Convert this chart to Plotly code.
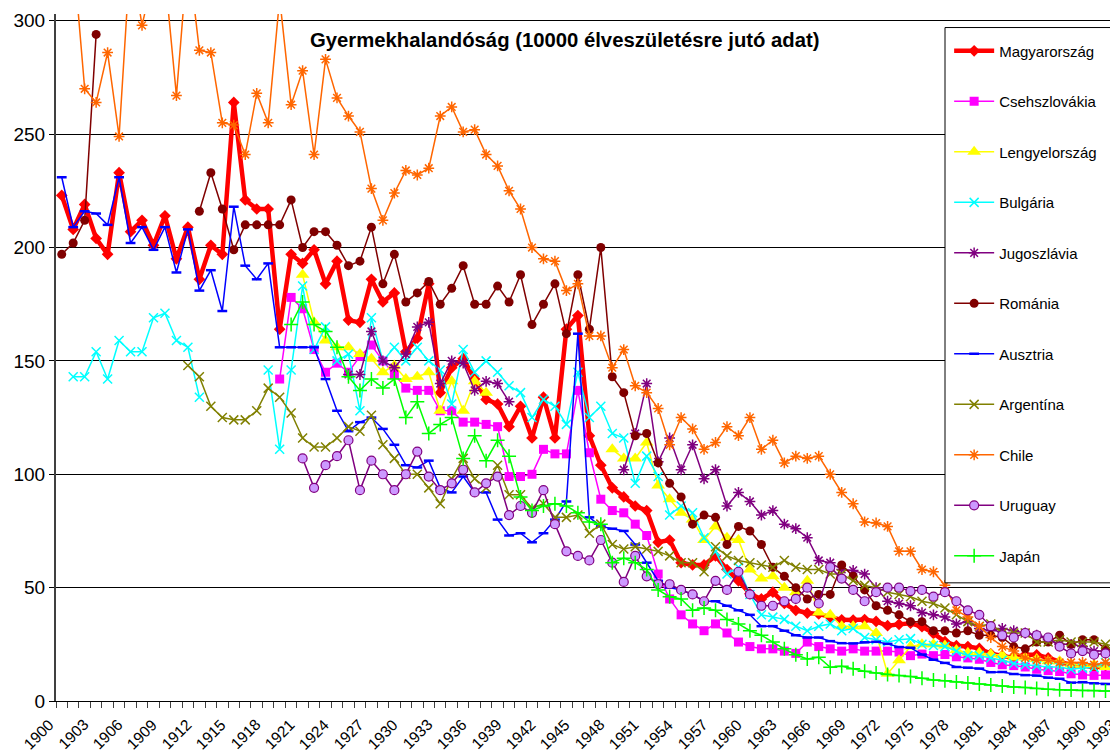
import plotly.graph_objects as go

years = list(range(1900, 1994))

def pad(start, vals):
    out = [None] * (start - 1900) + list(vals)
    return out + [None] * (len(years) - len(out))

# ---- data ----
hu_start = 1900
hu = [223, 208, 219, 204, 197, 233, 207, 212, 201, 214, 195, 209, 186, 201, 197, 264, 221, 217, 217, 164,
      197, 193, 199, 184, 194, 168, 167, 186, 176, 180, 154, 160, 184, 136, 147, 151, 142, 133, 131, 121,
      130, 116, 134, 116, 164, 170, 117, 104, 94, 90, 86, 84, 70, 71, 61, 60, 60, 64, 58, 53,
      47.3, 45, 48, 43, 40, 38.8, 38.4, 37, 35.8, 35.7, 35.9, 35.1, 33.2, 33.8, 34.3, 32.8, 29.8, 26.2, 24.4, 24,
      23.2, 20.8, 20, 19, 20.4, 20.4, 19, 17.3, 15.8, 15.7, 14.8, 15.6, 14.1, 12.5]

cs_start = 1919
cs = [142, 178, 173, 155, 145, 149, 145, 152, 157, 150, 144, 138, 137, 137, 128, 128, 123, 123, 122, 121,
      99, 99, 100, 111, 109, 109, 137, 109.5, 89, 84, 83, 78, 73, 56, 45, 38, 34, 31, 34, 30,
      26, 24, 23, 23, 22, 21, 26, 24, 23, 22, 23, 22, 22, 22, 21.6, 20, 20.7, 20, 20.5, 19.5,
      19, 18.4, 17, 16, 15.6, 15, 14, 13.4, 13, 12, 11.5, 11.3, 11.5, 10, 9]

pl_start = 1921
pl = [188, 167, 159, 156, 156, 153, 151, 145, 148, 142, 143, 145, 128, 141, 128, 141, 136,
      None, None, None, None, None, None, None, None, None, None,
      111, 107, 107, 114, 95, 89, 83, 80, 71, 77, 72, 71, 58, 54, 55, 50, 48, 53,
      39, 38, 33, 33, 33, 30, 12, 18, 24, 25, 25, 24.5, 22.5, 21.3, 21.3, 20.6, 20.2, 19.2,
      19.2, 18.5, 17.5, 17.5, 16.2, 16, 16, 15, 14.4, 13.8]

bg_start = 1901
bg = [143, 143, 154, 142, 159, 154, 154, 169, 171, 159, 156, 134,
      None, None, None, None, None,
      146, 111, 146, 183, 155, 165, 150, 153, 128, 169, 150, 156, 150, 156, 150, 146, 131, 155, 145,
      150, 145, 139, 136, 125, 133, 130, 122, 145, 125, 130, 118, 116, 96, 108, 99, 82, 86, 83,
      72, 66, 56, 59, 47, 38, 37, 36, 33, 31, 33, 34, 31, 32, 28, 27, 26, 27, 27.5, 25, 24.5,
      24, 22, 20, 20, 19, 18, 16.5, 16, 15.5, 15, 15, 14, 14.5, 14.8, 17, 16, 16]

yu_start = 1925
yu = [144, 144, 163, 150, 147, 153, 165, 167, 140, 150, 149, 137, 141, 140, 132,
      None, None, None, None, None, None, None, None, None,
      102, 118, 140, 105.5, 116, 102, 113, 98, 102, 86, 92, 88, 82, 84, 78, 76, 72, 62, 61,
      58, 57.6, 56, 50, 44, 43, 42, 39, 38, 37, 34, 35, 32, 31, 32, 31, 30, 29, 27, 25, 25,
      24, 22, 22, 21, 21]

ro_start = 1900
ro = [197, 202, 212, 294, None, None, None, None, None, None, None, None,
      216, 233, 217, 199, 210, 210, 210, 210, 221, 200, 207, 207, 201, 192, 194, 209, 184, 197,
      176, 180, 185, 175, 182, 192, 175, 175, 183, 176, 188, 166, 175, 184, 162, 188, 164, 200,
      143, 136, 117, 118, 105, 96, 90, 78, 82, 81, 69, 77, 75, 69, 59, 55, 50, 45, 47, 47, 60,
      55, 49, 42, 40, 38, 35, 35, 31, 31, 30, 31, 29, 29, 28, 24, 23, 26, 26, 29, 25, 27, 27,
      23, 23, 23]

at_start = 1900
at = [231, 209, 216, 215, 210, 231, 202, 209, 199, 209, 189, 208, 181, 190, 172, 218, 192, 186, 193,
      156, 156, 156, 156, 142, 128, 119, 123, 125, 120, 113, 104, 103, 106, 94, 92, 99, 92, 92,
      80, 73, 74, 70, 74, 80, 88, 162, 81, 77, 76, 75, 69, 61, 53, 50, 49, 47, 44, 44, 42, 40,
      38, 33, 33, 31, 29, 28, 28, 26.4, 25.5, 25.4, 25.9, 26.1, 25.2, 23.8, 23.5, 20.5, 18.2,
      16.8, 15, 14.7, 14.3, 12.7, 12.8, 11.9, 11.4, 11.2, 10.3, 9.8, 8.1, 8.3, 7.8, 7.5, 7.5, 6.5]

ar_start = 1911
ar = [148, 143, 130, 125, 124, 124, 128, 138, 134, 127, 116, 112, 112, 116, 121, 119, 126, 113,
      107, 100, 100, 94, 87, 98, 107, 98, 94, 104, 91, 91, 85, 87, 81, 81, 82, 74, 78, 69, 67,
      68, 67, 66, 64, 61, 61, 57, 68, 64, 62, 61, 60, 59, 62, 59, 58, 58, 56, 56, 53, 51, 50,
      48, 47, 46, 44, 43, 41, 38, 35, 33, 34, 30, 30, 30, 26, 26, 27, 26, 26, 26, 25, 24, 23]

cl_start = 1900
cl = [340, 330, 270, 264, 286, 249, 330, 298, 320, 320, 267, 330, 287, 286, 255, 254, 241, 268,
      255, 310, 263, 278, 241, 283, 266, 258, 251, 226, 212, 224, 234, 232, 235, 258, 262, 251,
      252, 241, 236, 225, 217, 200, 195, 194, 181, 184, 161, 161, 147, 155, 139, 136, 129, 113,
      125, 120, 111, 114, 121, 117, 125, 111, 115, 105, 108, 107, 108, 100, 92, 87, 79, 78.5,
      77, 66, 66, 58, 57, 51, 40, 37, 33, 28, 24, 22, 19, 18, 18, 17, 17, 17, 16, 17, 15, 14]

uy_start = 1921
uy = [107, 94, 104, 108, 115, 93, 106, 100, 93, 100, 110, 99, 93, 96, 102, 92, 96, 99, 82, 86,
      83, 93, 78, 66, 64, 62, 71, 61, 52.5, 64, 55, 51.5, 51.5, 49, 47, 44, 53, 49, 57, 47, 42,
      42, 44, 45, 50, 43, 59, 54, 49, 44, 48, 50, 50, 48.5, 49, 46, 48, 44, 40, 38, 33, 29, 28,
      30, 29, 28, 24, 21, 22, 20.4, 21, 19, 19]

jp_start = 1920
jp = [166, 176, 166, 163, 156, 143, 137, 142, 138, 142, 125, 132, 118, 122, 125, 107, 117, 106,
      115, 108, 90, 84, 86, 87, 86, 83, 79, 78, 61, 63, 61, 58, 49, 46, 45, 40, 41, 40, 36, 34,
      31, 29, 26, 23, 20.4, 18.5, 19.3, 14.9, 15.3, 14.2, 13.1, 12.4, 11.7, 11.3, 10.8, 10, 9.3,
      8.9, 8.4, 7.9, 7.5, 7.1, 6.6, 6.2, 6, 5.5, 5.2, 5, 4.8, 4.6, 4.6, 4.4, 4.5, 4.3]

names = ["Magyarország", "Csehszlovákia", "Lengyelország", "Bulgária", "Jugoszlávia", "Románia",
         "Ausztria", "Argentína", "Chile", "Uruguay", "Japán"]
data = [pad(hu_start, hu), pad(cs_start, cs), pad(pl_start, pl), pad(bg_start, bg), pad(yu_start, yu),
        pad(ro_start, ro), pad(at_start, at), pad(ar_start, ar), pad(cl_start, cl), pad(uy_start, uy),
        pad(jp_start, jp)]

tick_years = list(range(1900, 1994, 3))
tick_text = [str(y) for y in tick_years]
y_ticks = [0, 50, 100, 150, 200, 250, 300]
x_range = [1899.5, 1992.09]

# ---- styles ----
styles = [
    dict(color="#FF0000", width=4.5, symbol="diamond", msize=9, mcolor="#FF0000", mline="#FF0000", mlw=0),
    dict(color="#FF00FF", width=1.5, symbol="square", msize=9, mcolor="#FF00FF", mline="#FF00FF", mlw=0),
    dict(color="#FFFF00", width=1.5, symbol="triangle-up", msize=12, mcolor="#FFFF00", mline="#FFFF00", mlw=0),
    dict(color="#00FFFF", width=1.5, symbol="x-thin-open", msize=9, mcolor="#00FFFF", mline="#00FFFF", mlw=1.5),
    dict(color="#800080", width=1.5, symbol="asterisk-open", msize=9, mcolor="#800080", mline="#800080", mlw=1.5),
    dict(color="#800000", width=1.5, symbol="circle", msize=9, mcolor="#800000", mline="#800000", mlw=0),
    dict(color="#0000FF", width=1.5, symbol="line-ew-open", msize=7, mcolor="#0000FF", mline="#0000FF", mlw=2.5),
    dict(color="#808000", width=1.5, symbol="x-thin-open", msize=9, mcolor="#808000", mline="#808000", mlw=1.5),
    dict(color="#FF6600", width=1.5, symbol="asterisk-open", msize=9, mcolor="#FF6600", mline="#FF6600", mlw=1.5),
    dict(color="#800080", width=1.5, symbol="circle", msize=9, mcolor="#CC99FF", mline="#800080", mlw=1.2),
    dict(color="#00FF00", width=1.5, symbol="cross-thin-open", msize=10, mcolor="#00FF00", mline="#00FF00", mlw=1.5),
]

fig = go.Figure()
for i, (name, vals, st) in enumerate(zip(names, data, styles)):
    fig.add_trace(go.Scatter(
        x=years, y=vals, name=name, mode="lines+markers", legendgroup=str(i),
        line=dict(color=st["color"], width=st["width"]),
        marker=dict(symbol=st["symbol"], size=st["msize"], color=st["mcolor"],
                    line=dict(color=st["mline"], width=st["mlw"])),
        connectgaps=False,
    ))

# legend frame (extends past the right edge of the picture)
fig.add_shape(type="rect", xref="paper", yref="paper", x0=0.8371, x1=1.02, y0=0.172, y1=0.9803,
              fillcolor="white", line=dict(color="black", width=1), layer="above")

fig.add_annotation(text="<b>Gyermekhalandóság (10000 élveszületésre jutó adat)</b>",
                   xref="paper", yref="paper", x=0.479, y=0.962, yanchor="middle", showarrow=False,
                   font=dict(family="Arial, Liberation Sans", size=20.3, color="black"))

# rotated category labels, Excel style (text ends just left of its category)
plot_w = 1062
for yr, txt in zip(tick_years, tick_text):
    xf = (yr - x_range[0]) / (x_range[1] - x_range[0])
    shift = -23.5
    # keep the last label inside the picture
    shift = min(shift, (1.0 - xf) * plot_w - 18)
    fig.add_annotation(text=txt, xref="paper", yref="paper", x=xf, y=0,
                       xanchor="center", yanchor="middle", xshift=shift, yshift=-33,
                       textangle=-45, showarrow=False, borderpad=0,
                       font=dict(family="Arial, Liberation Sans", size=15.5, color="black"))

fig.update_layout(
    width=1110, height=748,
    margin=dict(l=48, r=0, t=6, b=55, autoexpand=False),
    paper_bgcolor="white", plot_bgcolor="white",
    font=dict(family="Arial, Liberation Sans", color="black"),
    showlegend=True,
    legend=dict(x=0.841, y=0.97, xanchor="left", yanchor="top", bgcolor="rgba(0,0,0,0)",
                borderwidth=0, font=dict(size=15),
                tracegroupgap=28, itemwidth=40),
    xaxis=dict(range=x_range, tickmode="array", tickvals=tick_years, ticktext=tick_text,
               showticklabels=False, ticks="", showgrid=False, zeroline=False, showline=True,
               linecolor="black", linewidth=1,
               minor=dict(ticks="outside", tick0=1899.5, dtick=1, ticklen=6, tickcolor="#404040",
                          showgrid=False)),
    yaxis=dict(range=[0, 303], tickmode="array", tickvals=y_ticks, showgrid=True,
               gridcolor="black", gridwidth=1, zeroline=False, showline=True, linecolor="#404040",
               linewidth=2, ticks="outside", ticklen=5, tickcolor="black", tickfont=dict(size=19)),
)

fig.write_html("out.html")
